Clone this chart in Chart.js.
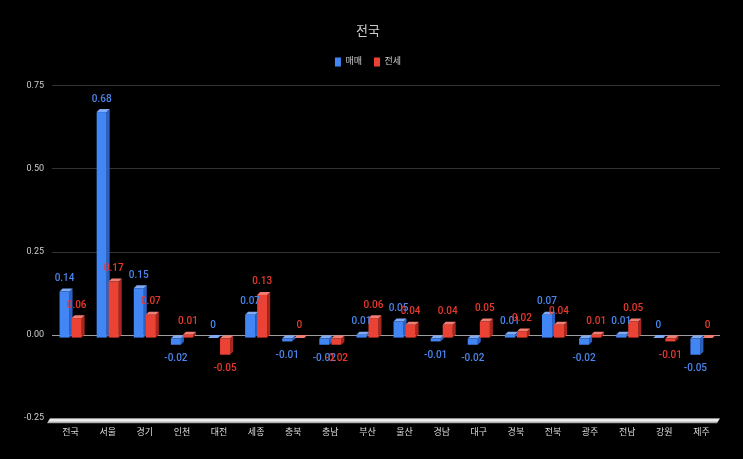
<!DOCTYPE html>
<html>
<head>
<meta charset="utf-8">
<script src="https://cdn.jsdelivr.net/npm/chart.js@4.4.1/dist/chart.umd.min.js"></script>
<style>
  html, body { margin: 0; padding: 0; background: #000; }
  #wrap { width: 743px; height: 459px; }
</style>
</head>
<body>
<div id="wrap"><canvas id="barChart"></canvas></div>
<script>
const REGIONS = ['전국', '서울', '경기', '인천', '대전', '세종', '충북', '충남', '부산',
                 '울산', '경남', '대구', '경북', '전북', '광주', '전남', '강원', '제주'];
const SALE   = [0.14, 0.68, 0.15, -0.02, 0, 0.07, -0.01, -0.02, 0.01,
                0.05, -0.01, -0.02, 0.01, 0.07, -0.02, 0.01, 0, -0.05];
const JEONSE = [0.06, 0.17, 0.07, 0.01, -0.05, 0.13, 0, -0.02, 0.06,
                0.04, 0.04, 0.05, 0.02, 0.04, 0.01, 0.05, -0.01, 0];
const Y_TICKS = [-0.25, 0, 0.25, 0.5, 0.75];

const DEPTH = 3;
const COLORS = [
    { front: '#4285f4', top: '#7eaaf8', side: '#2b61c4', label: '#4a86ec' },
    { front: '#ea4335', top: '#f27d73', side: '#a9261d', label: '#e8392d' }
];

Chart.defaults.font.family = 'Roboto, "Noto Sans CJK KR", sans-serif';

function poly(ctx, pts, color) {
    ctx.beginPath();
    ctx.moveTo(pts[0][0], pts[0][1]);
    for (let k = 1; k < pts.length; k++) ctx.lineTo(pts[k][0], pts[k][1]);
    ctx.closePath();
    ctx.fillStyle = color;
    ctx.fill();
}

// fake 3d: floor, extruded bars and value labels
const bars3d = {
    id: 'bars3d',
    beforeDatasetsDraw(chart) {
        const ctx = chart.ctx;
        const a = chart.chartArea;

        // floor at the bottom of the plot
        const g = ctx.createLinearGradient(0, a.bottom, 0, a.bottom + 5);
        g.addColorStop(0, '#b0b0b0');
        g.addColorStop(0.35, '#ffffff');
        g.addColorStop(1, '#9a9a9a');
        poly(ctx, [[a.left - 2, a.bottom], [a.right, a.bottom],
                   [a.right - 3, a.bottom + 5], [a.left - 5, a.bottom + 5]], g);

        const metas = chart.data.datasets.map((ds, i) => chart.getDatasetMeta(i));
        for (let j = 0; j < REGIONS.length; j++) {
            metas.forEach((meta, i) => {
                const bar = meta.data[j];
                const c = COLORS[i];
                const w = bar.width, d = DEPTH;
                const x0 = bar.x - w / 2, x1 = bar.x + w / 2;
                const top = Math.min(bar.y, bar.base) + d;
                const bot = Math.max(bar.y, bar.base) + d;
                poly(ctx, [[x1, top], [x1 + d, top - d], [x1 + d, bot - d], [x1, bot]], c.side);
                poly(ctx, [[x0, top], [x0 + d, top - d], [x1 + d, top - d], [x1, top]], c.top);
                ctx.fillStyle = c.front;
                ctx.fillRect(x0, top, w, bot - top);
            });
        }

        ctx.save();
        ctx.font = '500 10px Roboto, sans-serif';
        ctx.textAlign = 'center';
        ctx.textBaseline = 'middle';
        metas.forEach((meta, i) => {
            const vals = chart.data.datasets[i].data;
            meta.data.forEach((bar, j) => {
                const v = vals[j];
                const y = v < 0 ? bar.y + DEPTH + 14 : bar.y - 10;
                ctx.fillStyle = COLORS[i].label;
                ctx.fillText(String(v), bar.x, y);
            });
        });
        ctx.restore();
        return false;
    }
};

const BAR = document.getElementById('barChart');

let barChart = new Chart(BAR, {
    type: 'bar',
    data: {
        labels: REGIONS,
        datasets: [{
            label: '매매',
            data: SALE,
            backgroundColor: COLORS[0].front,
            categoryPercentage: 0.65,
            barPercentage: 0.83
        }, {
            label: '전세',
            data: JEONSE,
            backgroundColor: COLORS[1].front,
            categoryPercentage: 0.65,
            barPercentage: 0.83
        }]
    },
    options: {
        responsive: true,
        maintainAspectRatio: false,
        animation: false,
        layout: {
            padding: { left: 16, right: 23, top: 0, bottom: 11 }
        },
        plugins: {
            title: {
                display: true,
                text: '전국',
                color: '#cccccc',
                font: { size: 13, weight: 'normal' },
                padding: { top: 24, bottom: 6 }
            },
            // empty subtitle under the legend, only used as a spacer
            subtitle: {
                display: true,
                text: '',
                weight: 500,
                font: { size: 1 },
                padding: { top: 8, bottom: 0 }
            },
            legend: {
                labels: {
                    color: '#cccccc',
                    font: { size: 9 },
                    boxWidth: 6,
                    boxHeight: 9,
                    padding: 12
                }
            },
            tooltip: { enabled: false }
        },
        scales: {
            x: {
                grid: { display: false, drawTicks: false },
                border: { display: false },
                ticks: { color: '#dddddd', font: { size: 9 }, padding: 9.5 }
            },
            y: {
                min: -0.25,
                max: 0.75,
                afterBuildTicks: (scale) => { scale.ticks = Y_TICKS.map(v => ({ value: v })); },
                grid: {
                    drawTicks: false,
                    color: (c) => c.tick.value === 0 ? '#9e9e9e' : (c.tick.value < 0 ? 'rgba(0,0,0,0)' : '#333333')
                },
                border: { display: false },
                ticks: {
                    color: '#cccccc',
                    font: { size: 9 },
                    padding: 8,
                    callback: (v) => Number(v).toFixed(2)
                }
            }
        }
    },
    plugins: [bars3d]
});
</script>
</body>
</html>
